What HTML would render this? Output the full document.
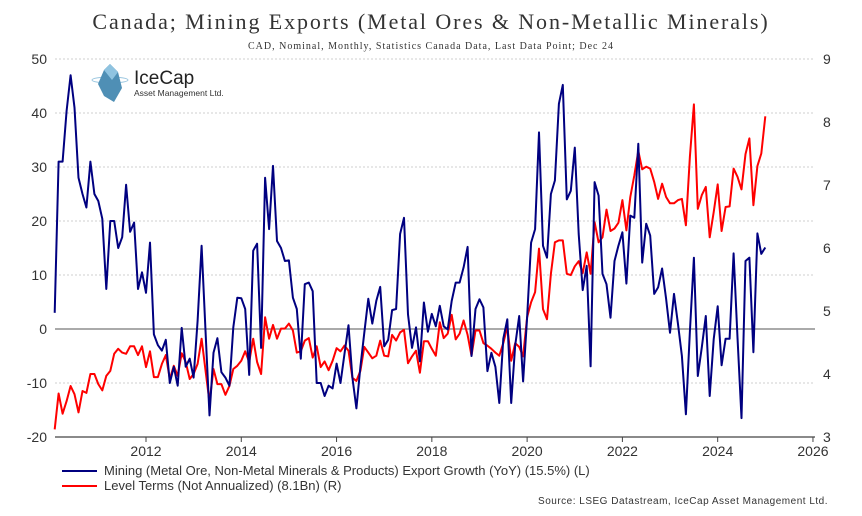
<!DOCTYPE html>
<html><head><meta charset="utf-8">
<style>
html,body{margin:0;padding:0;background:#fff;}
svg{display:block;}
text{font-family:"Liberation Sans",sans-serif;}
.serif{font-family:"Liberation Serif",serif;}
</style></head>
<body>
<svg id="chart" width="862" height="516" xmlns="http://www.w3.org/2000/svg">
<text class="serif" x="431" y="29" text-anchor="middle" font-size="22" letter-spacing="1.9" fill="#333">Canada; Mining Exports (Metal Ores &amp; Non-Metallic Minerals)</text>
<text class="serif" x="431" y="49" text-anchor="middle" font-size="10" letter-spacing="1" fill="#333">CAD, Nominal, Monthly, Statistics Canada Data, Last Data Point; Dec 24</text>
<g id="grid"></g>
<g id="yl"></g>
<g id="yr"></g>
<g id="xa"></g>
<g>
<ellipse cx="110" cy="80" rx="18" ry="3" fill="none" stroke="#9cc7e0" stroke-width="1"/>
<polygon points="110,64 118,72 122,88 114,102 104,96 98,84 104,70" fill="#4f8fb5"/>
<polygon points="110,64 118,72 112,80 104,70" fill="#8fc3e0"/>
<text x="134" y="84" font-size="19" fill="#222">IceCap</text>
<text x="134" y="96" font-size="8.5" fill="#333">Asset Management Ltd.</text>
</g>
<g id="series"></g>
<g>
<line x1="62" y1="471" x2="97" y2="471" stroke="#000080" stroke-width="2"/>
<text x="104" y="475" font-size="13" fill="#333">Mining (Metal Ore, Non-Metal Minerals &amp; Products) Export Growth (YoY) (15.5%) (L)</text>
<line x1="62" y1="486" x2="97" y2="486" stroke="#ff0000" stroke-width="2"/>
<text x="104" y="490" font-size="13" fill="#333">Level Terms (Not Annualized) (8.1Bn) (R)</text>
</g>
<text x="828" y="504" text-anchor="end" font-size="10" letter-spacing="0.5" fill="#333">Source: LSEG Datastream, IceCap Asset Management Ltd.</text>
</svg>
<script>
const yearTicks = [2012, 2014, 2016, 2018, 2020, 2022, 2024, 2026];
const leftTicks = [50, 40, 30, 20, 10, 0, -10, -20];
const rightTicks = [9, 8, 7, 6, 5, 4, 3];
const startYear = 2010.083;
const endYear = 2025.0;
const miningYoY = [3,31,31,40.4,47,41,28,25,22.5,31,25,23.7,20.4,7.4,20,20,15,17,26.7,18,19.7,7.4,10.5,6.7,16,-1,-3,-4,-2,-10,-7,-10.5,0.2,-7,-5.5,-9,1.5,15.4,-0.3,-16,-4.4,-1.7,-8,-9,-10.5,0.3,5.8,5.7,3.7,-8.5,14.5,15.8,-3.5,28,18.5,30.2,16.3,15,12.6,12.7,5.8,3.7,-5.5,8.3,
8.6,7,-10,-10,-12.4,-10.5,-11,-6.4,-10,-4.6,0.7,-9,-14.7,-7,-0.7,5.6,1,5.2,7.8,-3.2,-2,3.5,3.7,17.6,20.6,2.7,-3.5,0.3,-6,4.9,-0.5,2.8,0.5,4.3,0.5,-0.1,5.2,8.6,8.6,11.4,15.2,-5,3.7,5.5,4,-7.8,-4.4,-7,-13.7,-1.8,1.8,-13.7,-3,2.4,-9.7,2.1,16,18.5,36.4,15.4,13.2,25,27.5,41.7,
45.2,24,25.6,33.6,17.6,7.2,11.7,-6.9,27.2,24.7,10.2,8.3,2.1,12.6,15.4,17.9,8.4,21,20.6,34.3,12.3,19.5,17.3,6.5,7.7,11.2,5.6,-0.7,6.5,0.9,-5,-15.8,-0.4,13.2,-8.7,-3.4,2.4,-12.4,-1.9,4.2,-6.7,-1.8,-1.8,14,-1.6,-16.5,12.6,13.2,-4.3,17.7,13.9,15.1];
const levelBn = [3.12,3.69,3.37,3.57,3.81,3.68,3.39,3.73,3.70,4.0,4.0,3.84,3.74,3.97,4.05,4.32,4.40,4.34,4.32,4.44,4.44,4.3,4.44,4.11,4.36,3.95,3.95,4.16,4.3,3.92,4.13,3.97,4.33,4.19,3.92,4.0,4.16,4.56,4.06,3.55,4.08,3.84,3.84,3.67,3.81,4.08,4.13,4.21,4.36,4.19,4.56,4.19,4.0,4.9,4.56,4.78,4.56,4.72,4.72,4.8,4.69,4.34,4.36,4.53,
4.57,4.26,4.44,4.11,4.2,4.06,4.21,4.41,4.36,4.45,4.37,3.94,3.89,4.05,4.43,4.34,4.25,4.29,4.53,4.29,4.28,4.62,4.53,4.66,4.7,4.17,4.28,4.37,4.02,4.52,4.52,4.4,4.29,4.82,4.57,4.64,4.94,4.55,4.64,4.85,4.62,4.29,4.69,4.69,4.49,4.45,4.4,4.34,4.29,4.49,4.75,4.21,4.49,4.43,4.28,4.9,5.14,5.3,5.99,5.03,4.87,5.59,6.09,6.12,
6.12,5.59,5.57,5.71,5.79,5.6,5.93,5.59,6.41,6.09,6.17,6.61,6.27,6.31,6.4,6.76,6.28,6.81,7.15,7.54,7.25,7.29,7.26,7.05,6.78,7.02,6.81,6.71,6.71,6.76,6.78,6.36,7.45,8.28,6.62,6.84,6.97,6.17,6.57,7.01,6.27,6.65,6.66,7.26,7.13,6.93,7.49,7.74,6.68,7.3,7.5,8.09];

const NS='http://www.w3.org/2000/svg';
const X0=55, X1=815, YT=59, YB=437;
function xs(t){ return 146 + (t-2012)*47.64; }
function yl(v){ return YB - (v+20)/70*(YB-YT); }
function yr(v){ return YB - (v-3)/6*(YB-YT); }
function mk(tag, attrs, parent){ const e=document.createElementNS(NS,tag); for(const k in attrs) e.setAttribute(k,attrs[k]); parent.appendChild(e); return e; }

const grid=document.getElementById('grid');
leftTicks.forEach(v=>{
  const y=yl(v);
  if(v!==0 && v!==-20){
    const g=mk('line',{x1:X0,x2:X1,y1:y,y2:y,stroke:'#cfcfcf','stroke-width':1,'stroke-dasharray':'2,2'},grid);
    
    
  }
  const t=mk('text',{x:47,y:y+5,'text-anchor':'end','font-size':14,fill:'#333'},document.getElementById('yl'));
  t.textContent=v;
  
  
});
rightTicks.forEach(v=>{
  const t=mk('text',{x:823,y:yr(v)+5,'font-size':14,fill:'#333'},document.getElementById('yr'));
  t.textContent=v;
  
  
});
const zl=mk('line',{x1:X0,x2:X1,y1:yl(0),y2:yl(0),stroke:'#555','stroke-width':1},grid);


const xa=document.getElementById('xa');
const ax=mk('line',{x1:X0,x2:X1,y1:YB,y2:YB,stroke:'#444','stroke-width':1.2},xa);


yearTicks.forEach(yr_=>{
  const x=xs(yr_);
  mk('line',{x1:x,x2:x,y1:YB,y2:YB+5,stroke:'#444','stroke-width':1},xa);
  const t=mk('text',{x:x,y:YB+19,'text-anchor':'middle','font-size':14,fill:'#333'},xa);
  t.textContent=yr_;
  
  
});
const series=document.getElementById('series');
function path(arr, yf, color, name){
  const step=(endYear-startYear)/(arr.length-1);
  const d=arr.map((v,i)=>(i?'L':'M')+xs(startYear+i*step).toFixed(1)+','+yf(v).toFixed(1)).join('');
  const p=mk('path',{d:d,fill:'none',stroke:color,'stroke-width':2,'stroke-linejoin':'round'},series);
  
  
}
path(levelBn, yr, '#ff0000', 'level-terms-line');
path(miningYoY, yl, '#000080', 'mining-yoy-line');
</script>
</body></html>
